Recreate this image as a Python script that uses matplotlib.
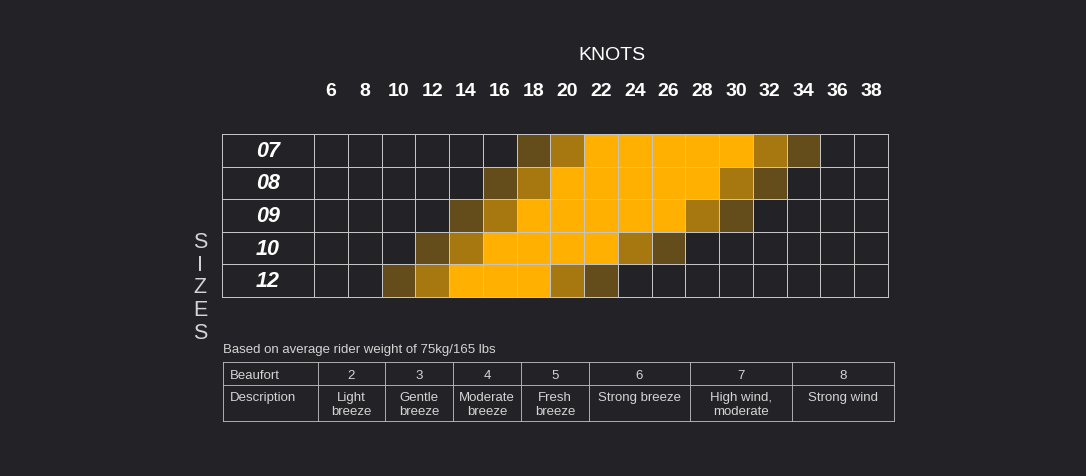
import numpy as np
import matplotlib
matplotlib.use("Agg")
import matplotlib.pyplot as plt
from matplotlib.colors import ListedColormap

plt.rcParams['font.family'] = ['Liberation Sans', 'DejaVu Sans']

# data
knots = [6, 8, 10, 12, 14, 16, 18, 20, 22, 24, 26, 28, 30, 32, 34, 36, 38]
sizes = ['07', '08', '09', '10', '12']
# 0 = not recommended, 1 = low, 2 = medium, 3 = ideal
range_07 = [0, 0, 0, 0, 0, 0, 1, 2, 3, 3, 3, 3, 3, 2, 1, 0, 0]
range_08 = [0, 0, 0, 0, 0, 1, 2, 3, 3, 3, 3, 3, 2, 1, 0, 0, 0]
range_09 = [0, 0, 0, 0, 1, 2, 3, 3, 3, 3, 3, 2, 1, 0, 0, 0, 0]
range_10 = [0, 0, 0, 1, 2, 3, 3, 3, 3, 2, 1, 0, 0, 0, 0, 0, 0]
range_12 = [0, 0, 1, 2, 3, 3, 3, 2, 1, 0, 0, 0, 0, 0, 0, 0, 0]

beaufort = ['2', '3', '4', '5', '6', '7', '8']
descriptions = ['Light\nbreeze', 'Gentle\nbreeze', 'Moderate\nbreeze', 'Fresh\nbreeze',
                'Strong breeze', 'High wind,\nmoderate', 'Strong wind']
note = 'Based on average rider weight of 75kg/165 lbs'

BG = '#232327'
LINE = '#c4c4c4'
TXT = '#d4d4d4'
cmap = ListedColormap([BG, '#654c1b', '#a77810', '#ffb000'])

fig = plt.figure(figsize=(10.86, 4.77), dpi=100, facecolor=BG)
W, H = 1086, 477

def px_axes(x0, y0, x1, y1):
    return fig.add_axes([x0 / W, 1 - y1 / H, (x1 - x0) / W, (y1 - y0) / H])

# chart grid
ax = px_axes(222, 135, 888, 298)
ax.set_facecolor(BG)
col_w = (888 - 314) / len(knots)
lab_w = (314 - 222) / col_w
grid = np.array([range_07, range_08, range_09, range_10, range_12])
C = np.hstack([np.zeros((len(sizes), 1)), grid])
X = np.concatenate([[-lab_w], np.arange(len(knots) + 1)])
Y = np.arange(len(sizes) + 1)
mesh = ax.pcolormesh(X, Y, C, cmap=cmap, vmin=-0.5, vmax=3.5,
                     edgecolors=LINE, linewidth=0.7)
mesh.set_clip_on(False)
ax.set_xlim(-lab_w, len(knots))
ax.set_ylim(len(sizes), 0)
for s in ax.spines.values():
    s.set_visible(False)
ax.set_yticks([])
ax.xaxis.tick_top()
ax.set_xticks(np.arange(len(knots)) + 0.5)
ax.set_xticklabels([str(k) for k in knots], fontsize=14, fontweight='bold', color='white')
ax.tick_params(axis='x', length=0, pad=25)

for i, s in enumerate(sizes):
    ax.text(-lab_w / 2, i + 0.5, s, ha='center', va='center', color='white',
            fontsize=15.5, fontweight='bold', fontstyle='italic')

fig.text(612 / W, 1 - 55 / H, 'KNOTS', ha='center', va='center', color='white', fontsize=14)
fig.text(200 / W, 1 - 288 / H, 'S\nI\nZ\nE\nS', ha='center', va='center', color=TXT,
         fontsize=15.5, linespacing=1.12)

fig.text(223 / W, 1 - 350 / H, note, ha='left', va='center', color=TXT, fontsize=9.5)

# beaufort table
tax = px_axes(223, 363, 894, 422)
tax.set_facecolor(BG)
tax.axis('off')
widths = [95, 67, 68, 68, 68, 101, 102, 102]
edges = np.concatenate([[0], np.cumsum(widths)])
row_h = [23, 36]
yedges = np.concatenate([[0], np.cumsum(row_h)])
tax.set_xlim(0, edges[-1])
tax.set_ylim(yedges[-1], 0)
for y in yedges:
    tax.plot([0, edges[-1]], [y, y], color=LINE, lw=0.6, clip_on=False)
for x in edges:
    tax.plot([x, x], [0, yedges[-1]], color=LINE, lw=0.6, clip_on=False)

tax.text(7, row_h[0] / 2 + 1.5, 'Beaufort', ha='left', va='center', color=TXT, fontsize=9.5)
tax.text(7, row_h[0] + 6.5, 'Description', ha='left', va='top', color=TXT, fontsize=9.5)
for i, (b, d) in enumerate(zip(beaufort, descriptions)):
    cx = (edges[i + 1] + edges[i + 2]) / 2
    tax.text(cx, row_h[0] / 2 + 1.5, b, ha='center', va='center', color=TXT, fontsize=9.5)
    tax.text(cx, row_h[0] + 6.5, d, ha='center', va='top', color=TXT, fontsize=9.5,
             linespacing=1.2)

fig.savefig('out.png', dpi=100, facecolor=BG)
